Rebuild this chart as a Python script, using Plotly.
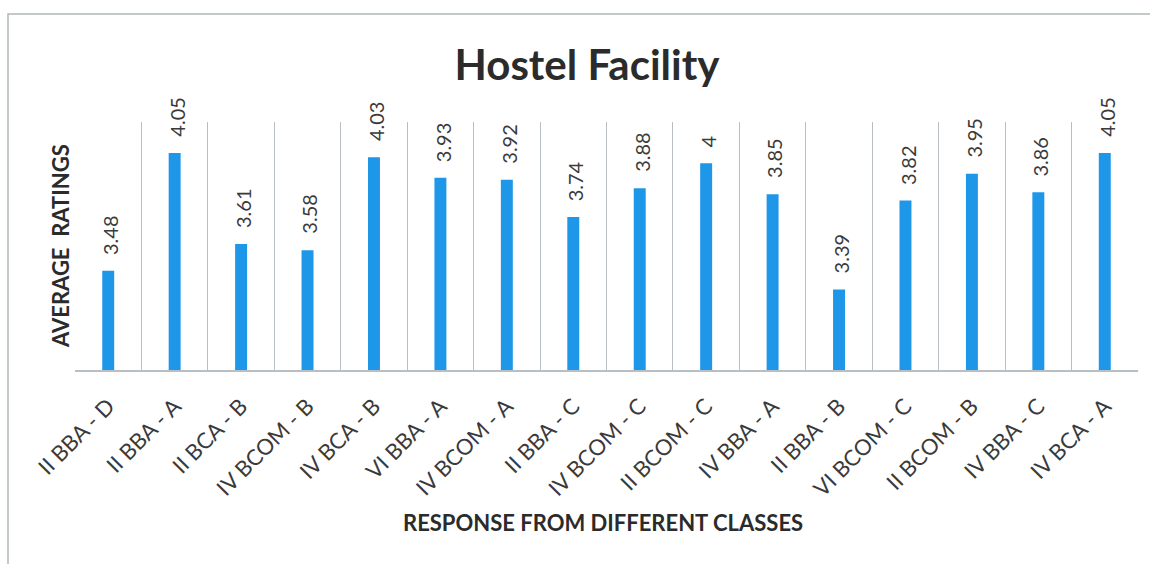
import plotly.graph_objects as go

classes = ["II BBA - D", "II BBA - A", "II BCA - B", "IV BCOM - B", "IV BCA - B",
           "VI BBA - A", "IV BCOM - A", "II BBA - C", "IV BCOM - C", "II BCOM - C",
           "IV BBA - A", "II BBA - B", "VI BCOM - C", "II BCOM - B", "IV BBA - C",
           "IV BCA - A"]
ratings = [3.48, 4.05, 3.61, 3.58, 4.03, 3.93, 3.92, 3.74, 3.88, 4, 3.85, 3.39,
           3.82, 3.95, 3.86, 4.05]
labels = [str(v) for v in ratings]

BAR = "#1F97E8"
GRID = "#B8BEC2"
TEXT = "#3A3A3A"
FONT = "Lato, 'Open Sans', sans-serif"

W, H = 1150, 564
ML, MR, MT, MB = 75, 12, 122, 194
pw, ph = W - ML - MR, H - MT - MB

fig = go.Figure(go.Bar(
    x=classes, y=ratings, width=0.18, marker_color=BAR, marker_line_width=0,
    hoverinfo="x+y",
))

# value labels above each bar, rotated, with the gap the original has
value_labels = [
    dict(x=c, y=v, text=t, xref="x", yref="y", showarrow=False, textangle=-90,
         yanchor="bottom", yshift=14, xshift=2,
         font=dict(size=20, color=TEXT, family=FONT))
    for c, v, t in zip(classes, ratings, labels)
]

fig.update_layout(
    width=W, height=H, margin=dict(l=ML, r=MR, t=MT, b=MB),
    paper_bgcolor="white", plot_bgcolor="white", showlegend=False,
    font=dict(family=FONT, color=TEXT),
    title=dict(text="<b>Hostel Facility</b>", x=587 / W, xanchor="center",
               y=1 - 65 / H, yanchor="middle", yref="container",
               font=dict(size=42, color="#2B2B2B", family=FONT)),
    xaxis=dict(tickson="boundaries", showgrid=True, gridcolor=GRID, gridwidth=1,
               showline=True, linecolor=GRID, linewidth=1.5, ticks="",
               tickangle=-45, ticklabelstandoff=13,
               tickfont=dict(size=22, color=TEXT, family=FONT)),
    yaxis=dict(range=[3, 4.2], showgrid=False, showticklabels=False,
               zeroline=False, showline=False),
    annotations=value_labels + [
        dict(text="<b>AVERAGE  RATINGS</b>", xref="paper", yref="paper",
             x=0, xanchor="center", xshift=-15, y=0.5, textangle=-90,
             showarrow=False, font=dict(size=22, color="#2B2B2B", family=FONT)),
        dict(text="<b>RESPONSE FROM DIFFERENT CLASSES</b>", xref="paper", yref="paper",
             x=(603 - ML) / pw, y=(370 - 522) / ph, yanchor="middle", showarrow=False,
             font=dict(size=22, color="#2B2B2B", family=FONT)),
    ],
    shapes=[
        dict(type="rect", xref="paper", yref="paper",
             x0=(8 - ML) / pw, x1=(1170 - ML) / pw,
             y0=(370 - 580) / ph, y1=(370 - 14) / ph,
             line=dict(color="#B0B6BA", width=1.5), layer="below"),
    ],
)

fig.write_html("out.html", config={"displayModeBar": False},
               post_script="document.body.style.margin='0';")
